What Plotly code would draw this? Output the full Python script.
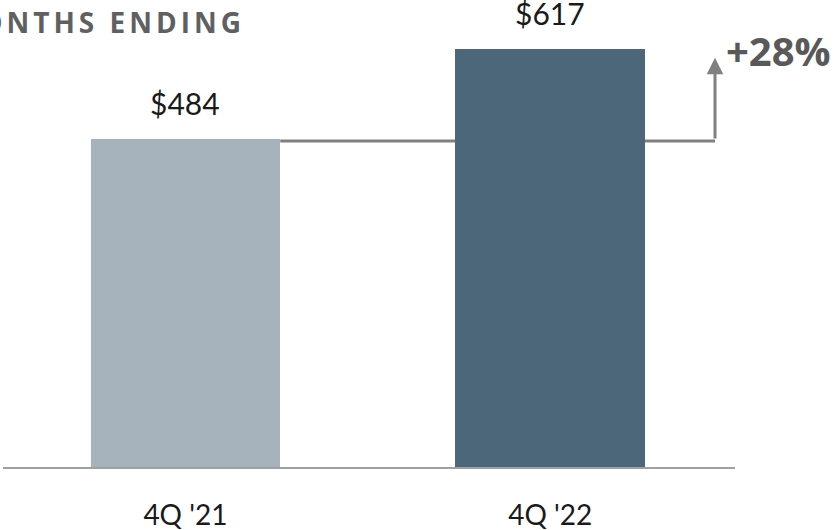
import plotly.graph_objects as go

categories = ["4Q '21", "4Q '22"]
values = [484, 617]
value_labels = ["$484", "$617"]
bar_colors = ["#A7B3BC", "#4B6779"]
growth_label = "+28%"
growth_arrow_top = 604
title_text = "THREE MONTHS ENDING"

x_pos = list(range(len(categories)))
bar_w = 0.52

fig = go.Figure()
fig.add_trace(go.Bar(
    x=x_pos, y=values, width=bar_w,
    marker=dict(color=bar_colors, line=dict(width=0)),
    hoverinfo="skip", showlegend=False,
))

# connector line from first bar top to arrow
arrow_x = 1.452
fig.add_shape(type="line", layer="below", xref="x", yref="y",
              x0=x_pos[0] + bar_w / 2, x1=arrow_x, y0=values[0] - 3, y1=values[0] - 3,
              line=dict(color="#808080", width=3))
fig.add_annotation(x=arrow_x, y=growth_arrow_top, ax=arrow_x, ay=values[0] - 1.5,
                   xref="x", yref="y", axref="x", ayref="y",
                   showarrow=True, arrowhead=2, arrowsize=1.1, arrowwidth=3,
                   arrowcolor="#808080", text="")
fig.add_annotation(x=arrow_x, y=growth_arrow_top, xref="x", yref="y", xanchor="left",
                   yanchor="middle", xshift=9, yshift=7, showarrow=False,
                   text="<b>" + growth_label + "</b>",
                   font=dict(family="Open Sans", size=40, color="#595959"))

for xi, v, lab in zip(x_pos, values, value_labels):
    fig.add_annotation(x=xi, y=v, xref="x", yref="y", yanchor="bottom",
                       yshift=16, showarrow=False, text=lab,
                       font=dict(family="Lato", size=30, color="#1a1a1a"))

fig.add_annotation(
    xref="x domain", yref="y domain", x=(247 - 3) / 732, y=(530 - 22 - 63) / 467,
    xanchor="right", yanchor="middle", showarrow=False,
    text="<b><span style='letter-spacing:4px'>" + title_text + "</span></b>",
    font=dict(family="Open Sans", size=28, color="#5F6062"))

fig.update_layout(
    width=838, height=530,
    margin=dict(l=3, r=103, t=0, b=63, autoexpand=False),
    paper_bgcolor="white", plot_bgcolor="white",
    bargap=0,
    xaxis=dict(range=[-0.5, 1.5068], tickvals=x_pos, ticktext=categories,
               showgrid=False, zeroline=False, showline=True, automargin=False,
               linecolor="#A0A0A0", linewidth=2, ticks="",
               ticklabelstandoff=22,
               tickfont=dict(family="Lato", size=28, color="#1a1a1a")),
    yaxis=dict(range=[0, 689.3], visible=False, showgrid=False, zeroline=False,
               automargin=False),
)

fig.write_html("out.html", config={"displayModeBar": False},
               post_script="document.body.style.margin='0';document.body.style.overflow='hidden';")
